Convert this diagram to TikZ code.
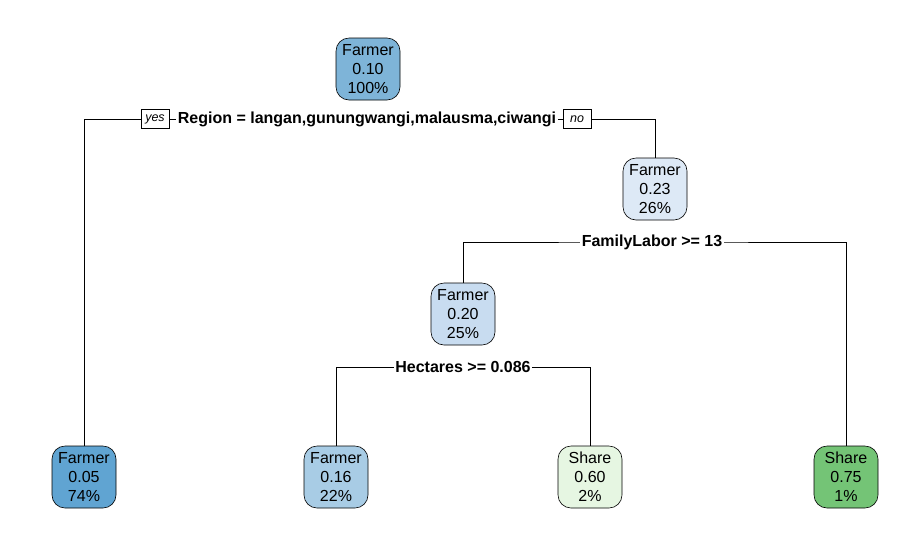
\documentclass[tikz,border=0pt]{standalone}
\usepackage{fontspec}
\setmainfont{Liberation Sans}
\begin{document}
\begin{tikzpicture}[x=1pt,y=-1pt,
  tnode/.style={draw=black, line width=0.6pt, rounded corners=13pt, minimum width=64pt, minimum height=62pt, align=center, inner sep=1pt, font=\fontsize{16}{19}\selectfont},
  slabel/.style={fill=white, inner sep=1.5pt, font=\bfseries\fontsize{16}{18}\selectfont},
  ynbox/.style={draw=black, fill=white, line width=0.5pt, inner sep=2pt, minimum width=28pt, minimum height=19pt, font=\itshape\fontsize{12.5}{14}\selectfont},
  conn/.style={draw=black, line width=0.6pt}]
\useasboundingbox (0,0) rectangle (923,542);
\definecolor{c010}{RGB}{126,180,216}
\definecolor{c005}{RGB}{96,164,210}
\definecolor{c023}{RGB}{221,233,246}
\definecolor{c020}{RGB}{200,220,240}
\definecolor{c016}{RGB}{168,204,229}
\definecolor{c060}{RGB}{230,246,226}
\definecolor{c075}{RGB}{116,196,118}

\node[tnode, fill=c010] (root) at (368,69) {Farmer\\0.10\\100\%};
\node[tnode, fill=c023] (n23) at (655,189) {Farmer\\0.23\\26\%};
\node[tnode, fill=c020] (n20) at (463,314) {Farmer\\0.20\\25\%};
\node[tnode, fill=c005] (l1) at (84,477) {Farmer\\0.05\\74\%};
\node[tnode, fill=c016] (l2) at (336,477) {Farmer\\0.16\\22\%};
\node[tnode, fill=c060] (l3) at (590,477) {Share\\0.60\\2\%};
\node[tnode, fill=c075] (l4) at (846,477) {Share\\0.75\\1\%};

\coordinate (s1) at (367,119);
\coordinate (s2) at (652,242);
\coordinate (s3) at (463,367);

\draw[conn] (l1.north) |- (s1) -| (n23.north);
\draw[conn] (n20.north) |- (s2) -| (l4.north);
\draw[conn] (l2.north) |- (s3) -| (l3.north);

\node[slabel] (lab1) at (s1) {Region = langan,gunungwangi,malausma,ciwangi};
\node[ynbox] (yes) at (155,119) {yes};
\node[ynbox] (no) at (577,119) {no};
\node[slabel] (lab2) at (s2) {FamilyLabor >= 13};
\node[slabel] (lab3) at (s3) {Hectares >= 0.086};
\end{tikzpicture}
\end{document}
